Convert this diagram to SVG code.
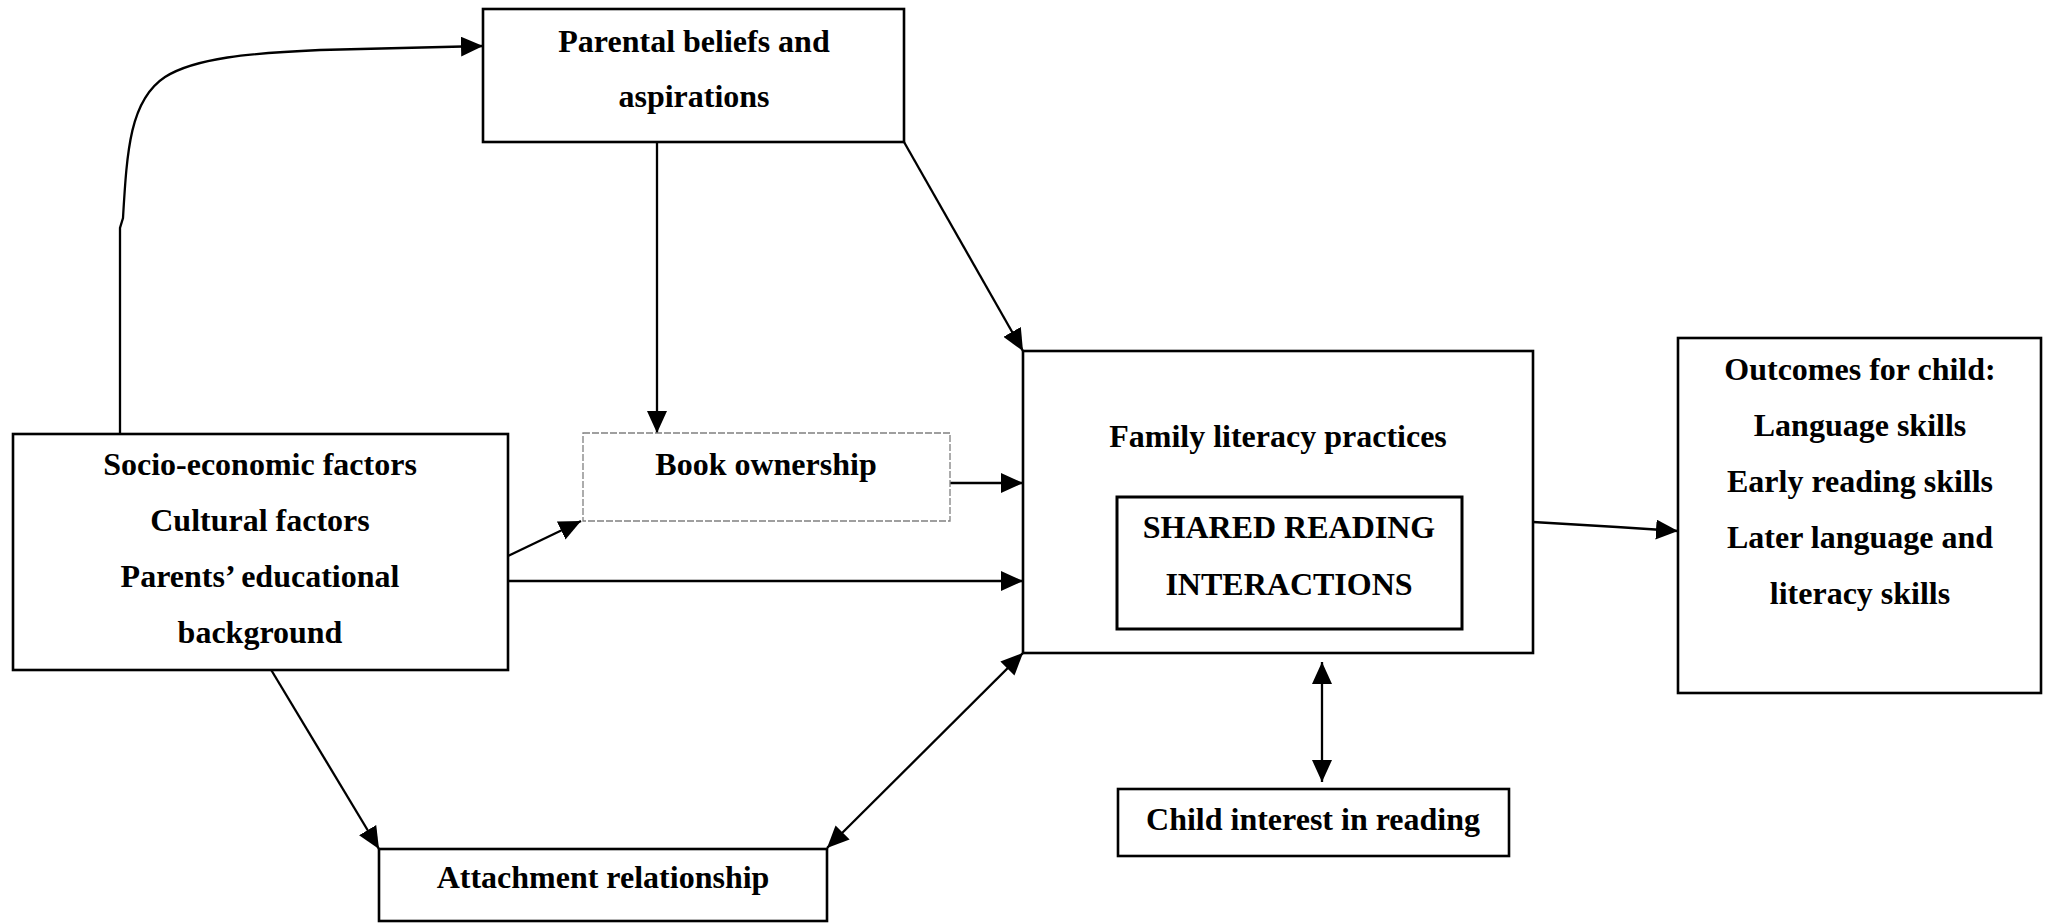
<svg xmlns="http://www.w3.org/2000/svg" width="2051" height="923" viewBox="0 0 2051 923">
<style>
.box{fill:#fff;stroke:#000;stroke-width:2.6}
.dbox{fill:#fff;stroke:#808080;stroke-width:1.3;stroke-dasharray:7 2}
.lbl{font-family:"Liberation Serif","Times New Roman",serif;font-weight:bold;font-size:32px;fill:#000;text-anchor:middle}
.c{fill:none;stroke:#000;stroke-width:2.3}
.a{marker-end:url(#ah)}
.b{marker-start:url(#ah);marker-end:url(#ah)}
</style>
<defs>
<marker id="ah" viewBox="0 0 22 20" refX="22" refY="10" markerWidth="22" markerHeight="20" markerUnits="userSpaceOnUse" orient="auto-start-reverse">
<path d="M0,0 L22,10 L0,20 z" fill="#000"/>
</marker>
</defs>
<rect width="2051" height="923" fill="#fff"/>
<g id="connectors">
<path class="c a" d="M120,433 L120,228 L123,218 C127,150 130,100 165,77 C195,58 250,53 320,50 L483,46"/>
<path class="c a" d="M657,142 L657,433"/>
<path class="c a" d="M904,142 L1023,351"/>
<path class="c a" d="M950,483 L1023,483"/>
<path class="c a" d="M508,556 L581,521"/>
<path class="c a" d="M508,581 L1023,581"/>
<path class="c a" d="M267,663 L379,849"/>
<path class="c b" d="M827,848 L1023,653"/>
<path class="c a" d="M1533,522 L1617,527 L1678,531"/>
<path class="c b" d="M1322,662 L1322,782"/>
</g>
<g id="parental">
<rect class="box" x="483" y="9" width="421" height="133"/>
<text class="lbl" x="694" y="52">Parental beliefs and</text>
<text class="lbl" x="694" y="107">aspirations</text>
</g>
<g id="socio">
<rect class="box" x="13" y="434" width="495" height="236"/>
<text class="lbl" x="260" y="475">Socio-economic factors</text>
<text class="lbl" x="260" y="531">Cultural factors</text>
<text class="lbl" x="260" y="587">Parents’ educational</text>
<text class="lbl" x="260" y="643">background</text>
</g>
<g id="book">
<rect class="dbox" x="583" y="433" width="367" height="88"/>
<text class="lbl" x="766" y="475">Book ownership</text>
</g>
<g id="family">
<rect class="box" x="1023" y="351" width="510" height="302"/>
<text class="lbl" x="1278" y="447">Family literacy practices</text>
</g>
<g id="shared">
<rect class="box" x="1117" y="497" width="345" height="132" style="stroke-width:3"/>
<text class="lbl" x="1289" y="538">SHARED READING</text>
<text class="lbl" x="1289" y="595">INTERACTIONS</text>
</g>
<g id="outcomes">
<rect class="box" x="1678" y="338" width="363" height="355"/>
<text class="lbl" x="1860" y="380">Outcomes for child:</text>
<text class="lbl" x="1860" y="436">Language skills</text>
<text class="lbl" x="1860" y="492">Early reading skills</text>
<text class="lbl" x="1860" y="548">Later language and</text>
<text class="lbl" x="1860" y="604">literacy skills</text>
</g>
<g id="child">
<rect class="box" x="1118" y="789" width="391" height="67"/>
<text class="lbl" x="1313" y="830">Child interest in reading</text>
</g>
<g id="attachment">
<rect class="box" x="379" y="849" width="448" height="72"/>
<text class="lbl" x="603" y="888">Attachment relationship</text>
</g>
</svg>
